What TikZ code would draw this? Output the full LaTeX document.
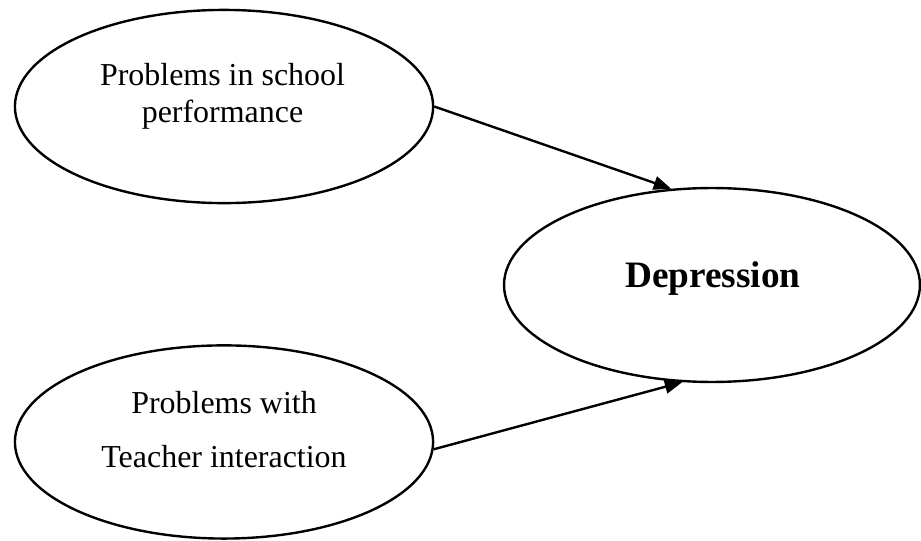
\documentclass[tikz,border=0pt]{standalone}
\usepackage{fontspec}
\setmainfont{Liberation Serif}
\usetikzlibrary{shapes.geometric,arrows.meta}

\begin{document}
\begin{tikzpicture}[
    >={Triangle[length=0.23cm,width=0.18cm]},
    every factor/.style={
        ellipse,
        draw,
        line width=0.9pt,
        inner sep=0pt,
        minimum width=5.52cm,
        minimum height=2.55cm
    },
    factor text/.style={
        align=center,
        inner sep=0pt,
        font=\fontsize{12}{13.8}\selectfont
    },
    link/.style={
        ->,
        line width=0.9pt
    }
]

\useasboundingbox (0,0) rectangle (12.157,-7.141);

% Causes
\node [every factor] (school) at (2.957,-1.406) {};
\node [factor text] (school-text) at (2.937,-1.267) {Problems in school\\performance};

\node [every factor] (teacher) at (2.957,-5.834) {};
\node [factor text, font=\fontsize{12}{20.3}\selectfont] (teacher-text) at (2.957,-5.676) {Problems with\\Teacher interaction};

% Outcome
\node [every factor, minimum width=5.49cm, minimum height=2.56cm] (depression) at (9.398,-3.762) {};
\node [factor text, font=\fontsize{14}{16}\selectfont\bfseries] (depression-text) at (9.412,-3.683) {Depression};

% Draw the connections
\draw [link] (school.east) -- (depression.113);
\draw [link] (teacher.-2) -- (depression.253);

\end{tikzpicture}
\end{document}
